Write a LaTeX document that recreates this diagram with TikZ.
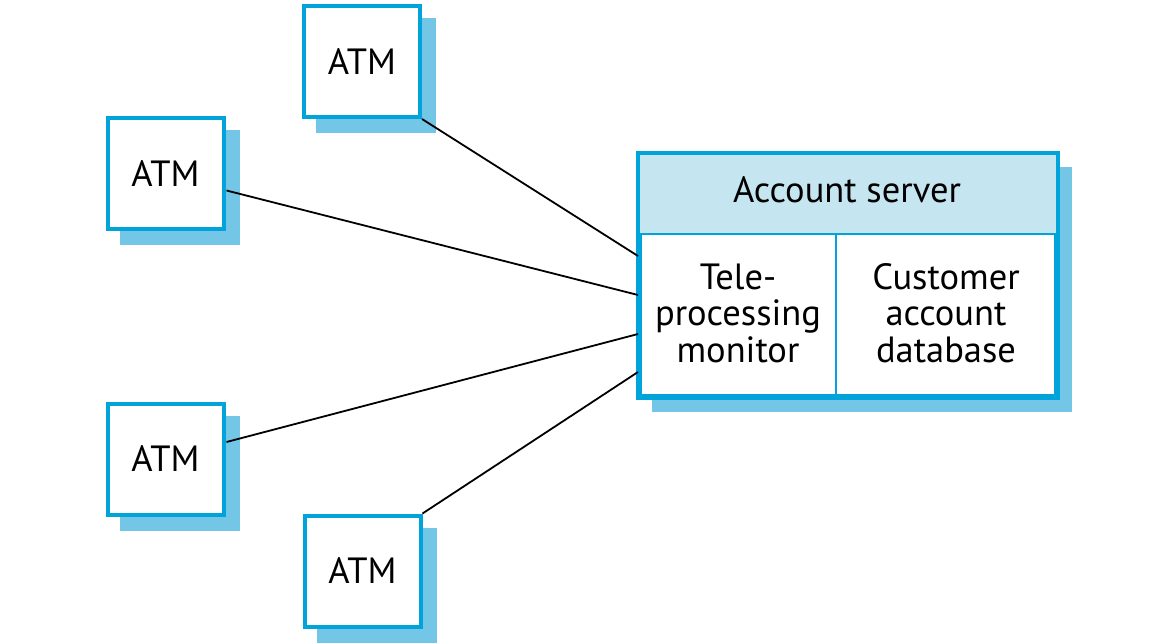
\documentclass[tikz,border=0pt]{standalone}
\usepackage{fontspec}
\setmainfont{PT Sans}
\usetikzlibrary{shadows,calc}
\definecolor{bordercol}{HTML}{00A3DA}
\definecolor{shadowcol}{HTML}{73C6E6}
\definecolor{hdrcol}{HTML}{C5E6F0}
\tikzset{
  shadowed/.style={drop shadow={shadow xshift=14pt,shadow yshift=-14pt,fill=shadowcol,draw=shadowcol,line width=4pt,opacity=1}},
  atmbox/.style={shadowed,draw=bordercol,line width=4pt,fill=white,minimum width=116pt,minimum height=111pt,inner sep=0pt,font=\fontsize{36.5}{37}\selectfont},
  srvbox/.style={shadowed,draw=bordercol,line width=4pt,fill=white,minimum width=416pt,minimum height=241pt,inner sep=0pt},
  srvtext/.style={align=center,inner sep=0pt,font=\fontsize{36.5}{36.5}\selectfont},
  divider/.style={draw=bordercol,line width=2pt},
  conn/.style={draw=black,line width=1.8pt}
}
\begin{document}
\begin{tikzpicture}[x=1pt,y=-1pt]
\useasboundingbox (0,0) rectangle (1170,643);
% ATMs
\node[atmbox] (atm1) at (362,61.5) {ATM};
\node[atmbox] (atm2) at (165.5,173.5) {ATM};
\node[atmbox] (atm3) at (165.5,459) {ATM};
\node[atmbox] (atm4) at (362.5,571) {ATM};
% server
\node[srvbox] (srv) at (848,275.5) {};
\coordinate (hb) at (0,234);
\coordinate (vd) at (836,234);
\fill[hdrcol] (srv.north west) rectangle (srv.east |- hb);
\draw[divider] (srv.west |- hb) -- (srv.east |- hb);
\draw[divider] (vd) -- (vd |- srv.south);
\draw[draw=bordercol,line width=4pt] (srv.north west) rectangle (srv.south east);
\node[srvtext] (hdr) at (847,190) {Account server};
\node[srvtext] (tp) at (738,313) {Tele-\\processing\\monitor};
\node[srvtext] (cad) at (946,313) {Customer\\account\\database};
% connectors
\draw[conn] (atm1.south east) -- ($(srv.north west)+(0,103)$);
\draw[conn] ($(atm2.east)+(1,17)$) -- ($(srv.north west)+(0,142)$);
\draw[conn] ($(atm3.east)+(1,-17)$) -- ($(srv.north west)+(0,181)$);
\draw[conn] (atm4.north east) -- ($(srv.north west)+(0,219)$);
\end{tikzpicture}
\end{document}
